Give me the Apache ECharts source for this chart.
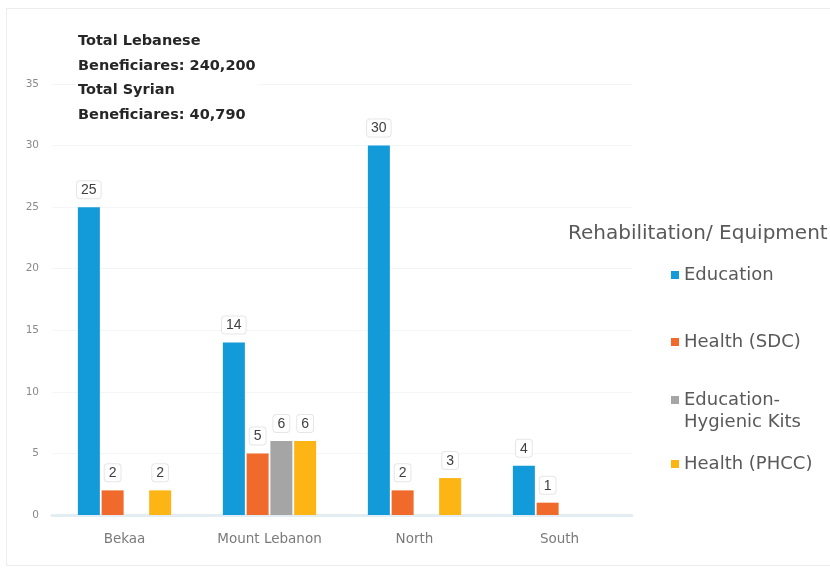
<!DOCTYPE html>
<html>
<head>
<meta charset="utf-8">
<script src="https://cdn.jsdelivr.net/npm/echarts@6/dist/echarts.min.js"></script>
<style>
  html, body { margin: 0; padding: 0; background: #fff; }
  #chart { width: 830px; height: 574px; }
</style>
</head>
<body>
<div id="chart"></div>
<script>
// Regions and counts of rehabilitation / equipment projects
const regions = ['Bekaa', 'Mount Lebanon', 'North', 'South'];
const education = [25, 14, 30, 4];
const healthSDC = [2, 5, 2, 1];
const hygienicKits = [null, 6, null, null];
const healthPHCC = [2, 6, 3, null];
const yTicks = [0, 5, 10, 15, 20, 25, 30, 35];

const seriesNames = ['Education', 'Health (SDC)', 'Education-\nHygienic Kits', 'Health (PHCC)'];
const seriesColors = ['#139ad8', '#ef6a2b', '#a5a5a5', '#fdb515'];
const seriesData = [education, healthSDC, hygienicKits, healthPHCC];
const legendTops = [261, 328, 386, 450];

const FONT = 'DejaVu Sans, Liberation Sans, Arial, sans-serif';
const chart = echarts.init(document.getElementById('chart'));

const label = {
  show: true,
  position: 'top',
  distance: 9,
  color: '#404040',
  fontSize: 14,
  fontFamily: 'Liberation Sans, Arial, sans-serif',
  backgroundColor: '#fff',
  borderColor: '#e6e6e6',
  borderWidth: 1,
  borderRadius: 3,
  padding: [2, 4, 1, 4]
};

// one legend block per series so each entry sits at its own height;
// the two-line entry shows its first line next to the swatch
const legends = seriesNames.map((name, i) => ({
  orient: 'vertical',
  left: 666,
  top: legendTops[i],
  itemWidth: 8,
  itemHeight: 8,
  icon: 'rect',
  textStyle: { color: '#595959', fontSize: 18, fontFamily: FONT },
  formatter: n => n.split('\n')[0],
  data: [name]
}));

chart.setOption({
  animation: false,
  backgroundColor: '#fff',
  textStyle: { fontFamily: FONT },
  grid: { left: 52, right: 198, top: 84, bottom: 59 },
  legend: legends,
  xAxis: {
    type: 'category',
    data: regions,
    axisLine: { lineStyle: { color: '#e2edf4', width: 3 } },
    axisTick: { show: false },
    axisLabel: { color: '#7a7a7a', fontSize: 13.5, margin: 17, fontFamily: FONT }
  },
  yAxis: {
    type: 'value',
    min: yTicks[0],
    max: yTicks[yTicks.length - 1],
    interval: 5,
    axisLine: { show: false },
    axisTick: { show: false },
    splitLine: { lineStyle: { color: '#f3f6f9' } },
    axisLabel: { color: '#8a8a8a', fontSize: 10.5, margin: 13, fontFamily: FONT }
  },
  series: seriesData.map((d, i) => ({
    name: seriesNames[i],
    type: 'bar',
    data: d,
    barWidth: 22,
    barGap: '8%',
    itemStyle: { color: seriesColors[i] },
    label: label
  })),
  graphic: [
    {
      type: 'rect',
      shape: { x: 6.5, y: 8.5, width: 830, height: 557 },
      style: { fill: 'none', stroke: '#ececec', lineWidth: 1 },
      silent: true
    },
    {
      type: 'text',
      left: 76,
      top: 29,
      z: 10,
      style: {
        text: 'Total Lebanese\nBeneficiares: 240,200\nTotal Syrian\nBeneficiares: 40,790',
        fill: '#262626',
        font: 'bold 14.5px ' + FONT,
        lineHeight: 24.5,
        backgroundColor: '#fff',
        padding: [0, 2]
      }
    },
    {
      type: 'text',
      left: 684,
      top: 413,
      style: {
        text: 'Hygienic Kits',
        fill: '#595959',
        font: '18px ' + FONT
      }
    },
    {
      type: 'text',
      left: 568,
      top: 224,
      style: {
        text: 'Rehabilitation/ Equipment',
        fill: '#595959',
        font: '20px ' + FONT
      }
    }
  ]
});
</script>
</body>
</html>
